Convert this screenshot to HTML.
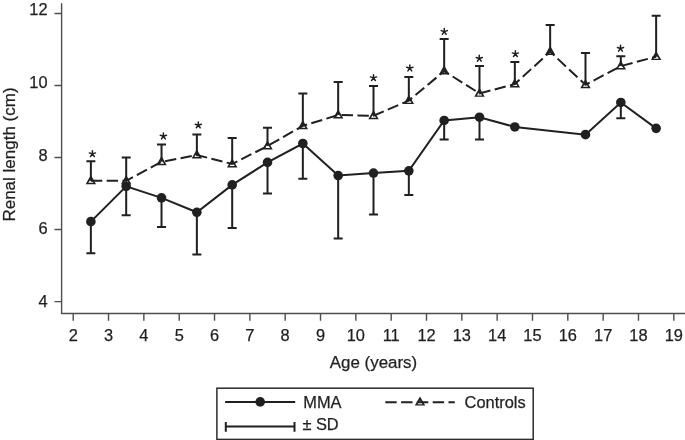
<!DOCTYPE html>
<html><head><meta charset="utf-8"><style>
html,body{margin:0;padding:0;background:#fff;}
svg{display:block;filter:grayscale(1);}
.t{font-family:"Liberation Sans",sans-serif;font-size:16.4px;fill:#231f20;stroke:#231f20;stroke-width:0.25px;}
</style></head><body>
<svg width="685" height="440" viewBox="0 0 685 440">
<rect width="685" height="440" fill="#fff"/>
<path d="M61.6,3.2 V313.5 H685" fill="none" stroke="#4d4d4d" stroke-width="1.4"/>
<path d="M54.5,301.58H61.6M54.5,229.56H61.6M54.5,157.54H61.6M54.5,85.52H61.6M54.5,13.50H61.6M73.20,313.5V320.8M108.53,313.5V320.8M143.86,313.5V320.8M179.19,313.5V320.8M214.52,313.5V320.8M249.85,313.5V320.8M285.18,313.5V320.8M320.51,313.5V320.8M355.84,313.5V320.8M391.17,313.5V320.8M426.50,313.5V320.8M461.83,313.5V320.8M497.16,313.5V320.8M532.49,313.5V320.8M567.82,313.5V320.8M603.15,313.5V320.8M638.48,313.5V320.8M673.81,313.5V320.8" fill="none" stroke="#4d4d4d" stroke-width="1.4"/>
<text x="47.5" y="307.30" text-anchor="end" class="t">4</text>
<text x="47.5" y="234.40" text-anchor="end" class="t">6</text>
<text x="47.5" y="161.30" text-anchor="end" class="t">8</text>
<text x="47.5" y="88.10" text-anchor="end" class="t">10</text>
<text x="47.5" y="15.15" text-anchor="end" class="t">12</text>
<text x="73.20" y="341.2" text-anchor="middle" class="t">2</text>
<text x="108.53" y="341.2" text-anchor="middle" class="t">3</text>
<text x="143.86" y="341.2" text-anchor="middle" class="t">4</text>
<text x="179.19" y="341.2" text-anchor="middle" class="t">5</text>
<text x="214.52" y="341.2" text-anchor="middle" class="t">6</text>
<text x="249.85" y="341.2" text-anchor="middle" class="t">7</text>
<text x="285.18" y="341.2" text-anchor="middle" class="t">8</text>
<text x="320.51" y="341.2" text-anchor="middle" class="t">9</text>
<text x="355.84" y="341.2" text-anchor="middle" class="t">10</text>
<text x="391.17" y="341.2" text-anchor="middle" class="t">11</text>
<text x="426.50" y="341.2" text-anchor="middle" class="t">12</text>
<text x="461.83" y="341.2" text-anchor="middle" class="t">13</text>
<text x="497.16" y="341.2" text-anchor="middle" class="t">14</text>
<text x="532.49" y="341.2" text-anchor="middle" class="t">15</text>
<text x="567.82" y="341.2" text-anchor="middle" class="t">16</text>
<text x="603.15" y="341.2" text-anchor="middle" class="t">17</text>
<text x="638.48" y="341.2" text-anchor="middle" class="t">18</text>
<text x="673.81" y="341.2" text-anchor="middle" class="t">19</text>
<text x="373.5" y="367.9" text-anchor="middle" class="t" style="font-size:16.9px">Age (years)</text>
<text transform="translate(14.7,154.5) rotate(-90)" x="0" y="0" text-anchor="middle" class="t" style="font-size:17px">Renal length (cm)</text>
<path d="M90.87,180.77V161.14M86.37,161.14H95.37M126.19,180.77V157.54M121.69,157.54H130.69M161.52,161.86V144.58M157.02,144.58H166.02M196.86,155.02V134.49M192.36,134.49H201.36M232.19,164.02V138.09M227.69,138.09H236.69M267.51,146.02V127.65M263.01,127.65H272.01M302.84,125.85V93.44M298.34,93.44H307.34M338.17,115.05V81.92M333.67,81.92H342.67M373.50,115.77V85.88M369.00,85.88H378.00M408.83,100.64V76.88M404.33,76.88H413.33M444.16,71.12V39.07M439.66,39.07H448.66M479.49,93.44V66.07M474.99,66.07H483.99M514.83,84.08V62.11M510.33,62.11H519.33M550.15,51.67V25.02M545.65,25.02H554.65M585.49,84.80V53.11M580.99,53.11H589.99M620.82,66.07V56.17M616.32,56.17H625.32M656.14,56.71V15.66M651.64,15.66H660.64M90.87,221.64V253.33M86.37,253.33H95.37M126.19,186.35V215.16M121.69,215.16H130.69M161.52,197.87V227.04M157.02,227.04H166.02M196.86,212.28V254.41M192.36,254.41H201.36M232.19,184.91V228.12M227.69,228.12H236.69M267.51,162.40V193.55M263.01,193.55H272.01M302.84,143.50V178.79M298.34,178.79H307.34M338.17,175.54V238.56M333.67,238.56H342.67M373.50,173.02V214.44M369.00,214.44H378.00M408.83,170.86V194.99M404.33,194.99H413.33M444.16,120.45V139.53M439.66,139.53H448.66M479.49,117.21V139.53M474.99,139.53H483.99M620.82,102.44V118.29M616.32,118.29H625.32" fill="none" stroke="#231f20" stroke-width="2.0"/>
<polyline points="90.87,180.77 126.19,180.77 161.52,161.86 196.86,155.02 232.19,164.02 267.51,146.02 302.84,125.85 338.17,115.05 373.50,115.77 408.83,100.64 444.16,71.12 479.49,93.44 514.83,84.08 550.15,51.67 585.49,84.80 620.82,66.07 656.14,56.71" fill="none" stroke="#231f20" stroke-width="2.0" stroke-dasharray="11.4 4.4"/>
<polyline points="90.87,221.64 126.19,186.35 161.52,197.87 196.86,212.28 232.19,184.91 267.51,162.40 302.84,143.50 338.17,175.54 373.50,173.02 408.83,170.86 444.16,120.45 479.49,117.21 514.83,126.93 585.49,134.67 620.82,102.44 656.14,128.37" fill="none" stroke="#231f20" stroke-width="2.0"/>
<circle cx="90.87" cy="221.64" r="4.8" fill="#231f20"/>
<circle cx="126.19" cy="186.35" r="4.8" fill="#231f20"/>
<circle cx="161.52" cy="197.87" r="4.8" fill="#231f20"/>
<circle cx="196.86" cy="212.28" r="4.8" fill="#231f20"/>
<circle cx="232.19" cy="184.91" r="4.8" fill="#231f20"/>
<circle cx="267.51" cy="162.40" r="4.8" fill="#231f20"/>
<circle cx="302.84" cy="143.50" r="4.8" fill="#231f20"/>
<circle cx="338.17" cy="175.54" r="4.8" fill="#231f20"/>
<circle cx="373.50" cy="173.02" r="4.8" fill="#231f20"/>
<circle cx="408.83" cy="170.86" r="4.8" fill="#231f20"/>
<circle cx="444.16" cy="120.45" r="4.8" fill="#231f20"/>
<circle cx="479.49" cy="117.21" r="4.8" fill="#231f20"/>
<circle cx="514.83" cy="126.93" r="4.8" fill="#231f20"/>
<circle cx="585.49" cy="134.67" r="4.8" fill="#231f20"/>
<circle cx="620.82" cy="102.44" r="4.8" fill="#231f20"/>
<circle cx="656.14" cy="128.37" r="4.8" fill="#231f20"/>
<path d="M90.87,174.97L96.07,184.17L85.67,184.17ZM90.87,179.17L88.27,182.77L93.47,182.77Z" fill="#231f20" fill-rule="evenodd"/>
<path d="M126.19,174.97L131.39,184.17L120.99,184.17ZM126.19,179.17L123.59,182.77L128.79,182.77Z" fill="#231f20" fill-rule="evenodd"/>
<path d="M161.52,156.06L166.72,165.26L156.32,165.26ZM161.52,160.26L158.92,163.86L164.12,163.86Z" fill="#231f20" fill-rule="evenodd"/>
<path d="M196.86,149.22L202.06,158.42L191.66,158.42ZM196.86,153.42L194.26,157.02L199.46,157.02Z" fill="#231f20" fill-rule="evenodd"/>
<path d="M232.19,158.22L237.38,167.42L226.99,167.42ZM232.19,162.42L229.59,166.02L234.78,166.02Z" fill="#231f20" fill-rule="evenodd"/>
<path d="M267.51,140.22L272.71,149.42L262.31,149.42ZM267.51,144.42L264.91,148.02L270.12,148.02Z" fill="#231f20" fill-rule="evenodd"/>
<path d="M302.84,120.05L308.04,129.25L297.64,129.25ZM302.84,124.25L300.24,127.85L305.44,127.85Z" fill="#231f20" fill-rule="evenodd"/>
<path d="M338.17,109.25L343.37,118.45L332.97,118.45ZM338.17,113.45L335.57,117.05L340.77,117.05Z" fill="#231f20" fill-rule="evenodd"/>
<path d="M373.50,109.97L378.70,119.17L368.31,119.17ZM373.50,114.17L370.90,117.77L376.11,117.77Z" fill="#231f20" fill-rule="evenodd"/>
<path d="M408.83,94.84L414.03,104.04L403.63,104.04ZM408.83,99.04L406.23,102.64L411.44,102.64Z" fill="#231f20" fill-rule="evenodd"/>
<path d="M444.16,65.32L449.36,74.52L438.96,74.52ZM444.16,69.52L441.56,73.12L446.76,73.12Z" fill="#231f20" fill-rule="evenodd"/>
<path d="M479.49,87.64L484.69,96.84L474.29,96.84ZM479.49,91.84L476.89,95.44L482.09,95.44Z" fill="#231f20" fill-rule="evenodd"/>
<path d="M514.83,78.28L520.03,87.48L509.63,87.48ZM514.83,82.48L512.23,86.08L517.43,86.08Z" fill="#231f20" fill-rule="evenodd"/>
<path d="M550.15,45.87L555.36,55.07L544.95,55.07ZM550.15,50.07L547.55,53.67L552.75,53.67Z" fill="#231f20" fill-rule="evenodd"/>
<path d="M585.49,79.00L590.69,88.20L580.28,88.20ZM585.49,83.20L582.88,86.80L588.09,86.80Z" fill="#231f20" fill-rule="evenodd"/>
<path d="M620.82,60.27L626.02,69.47L615.62,69.47ZM620.82,64.47L618.22,68.07L623.42,68.07Z" fill="#231f20" fill-rule="evenodd"/>
<path d="M656.14,50.91L661.35,60.11L650.94,60.11ZM656.14,55.11L653.54,58.71L658.75,58.71Z" fill="#231f20" fill-rule="evenodd"/>
<path d="M92.40,153.90L92.40,150.70M92.40,153.90L95.44,152.91M92.40,153.90L89.36,152.91M92.40,153.90L90.52,156.49M92.40,153.90L94.28,156.49M163.40,136.30L163.40,133.10M163.40,136.30L166.44,135.31M163.40,136.30L160.36,135.31M163.40,136.30L161.52,138.89M163.40,136.30L165.28,138.89M198.30,125.20L198.30,122.00M198.30,125.20L201.34,124.21M198.30,125.20L195.26,124.21M198.30,125.20L196.42,127.79M198.30,125.20L200.18,127.79M373.50,77.90L373.50,74.70M373.50,77.90L376.54,76.91M373.50,77.90L370.46,76.91M373.50,77.90L371.62,80.49M373.50,77.90L375.38,80.49M409.80,68.30L409.80,65.10M409.80,68.30L412.84,67.31M409.80,68.30L406.76,67.31M409.80,68.30L407.92,70.89M409.80,68.30L411.68,70.89M444.30,31.60L444.30,28.40M444.30,31.60L447.34,30.61M444.30,31.60L441.26,30.61M444.30,31.60L442.42,34.19M444.30,31.60L446.18,34.19M479.30,58.50L479.30,55.30M479.30,58.50L482.34,57.51M479.30,58.50L476.26,57.51M479.30,58.50L477.42,61.09M479.30,58.50L481.18,61.09M515.40,53.90L515.40,50.70M515.40,53.90L518.44,52.91M515.40,53.90L512.36,52.91M515.40,53.90L513.52,56.49M515.40,53.90L517.28,56.49M620.50,48.50L620.50,45.30M620.50,48.50L623.54,47.51M620.50,48.50L617.46,47.51M620.50,48.50L618.62,51.09M620.50,48.50L622.38,51.09" fill="none" stroke="#231f20" stroke-width="1.5" stroke-linecap="round"/>
<rect x="216.9" y="388.2" width="316.3" height="51.2" fill="none" stroke="#2e2b2c" stroke-width="1.5"/>
<path d="M225.1,401.9H295.2" stroke="#231f20" stroke-width="2.0"/>
<circle cx="260.2" cy="401.9" r="4.8" fill="#231f20"/>
<text x="303.3" y="408.4" class="t">MMA</text>
<path d="M385.3,402.2H454.8" stroke="#231f20" stroke-width="2.0" stroke-dasharray="11.4 4.4"/>
<path d="M420.00,396.40L425.20,405.60L414.80,405.60ZM420.00,400.60L417.40,404.20L422.60,404.20Z" fill="#231f20" fill-rule="evenodd"/>
<text x="464.6" y="408.4" class="t">Controls</text>
<path d="M225.8,426.4H294.5M225.8,421.9V431.7M294.5,421.9V431.7" stroke="#231f20" stroke-width="2.0" fill="none"/>
<text x="302.4" y="430.3" class="t">± SD</text>
</svg>
</body></html>
